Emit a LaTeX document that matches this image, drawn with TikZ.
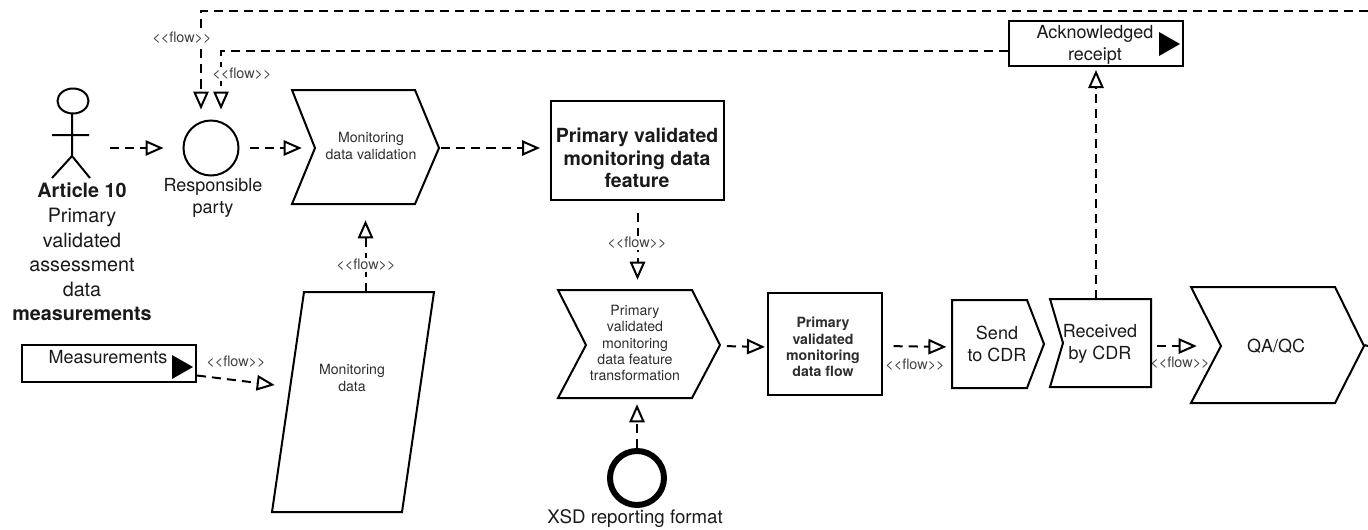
\documentclass[tikz,border=0pt]{standalone}
\usepackage{fontspec}
\setmainfont{TeX Gyre Heros}
\usetikzlibrary{arrows.meta,fit,calc}
\definecolor{ink}{HTML}{1A1A1A}
\definecolor{soft}{HTML}{2E2E2E}
\definecolor{flowgray}{HTML}{404040}
\tikzset{
  x=0.75pt,y=-0.75pt,
  shapeline/.style={draw=black,line width=1.5pt,line join=miter},
  frame/.style={inner sep=0pt},
  boxed/.style={frame,draw=black,line width=1.5pt},
  flowline/.style={draw=black,line width=1.5pt,dash pattern=on 6.8pt off 4.5pt,
    -{Triangle[open,fill=white,length=13.5pt,width=11.5pt,line width=1.5pt]}},
  plainflow/.style={draw=black,line width=1.5pt,dash pattern=on 6.8pt off 4.5pt},
  big/.style={align=center,inner sep=0pt,text=ink,font=\fontsize{14.8}{18.4}\selectfont},
  bigbox/.style={align=center,inner sep=0pt,text=ink,font=\fontsize{14.6}{16.9}\selectfont},
  mid/.style={align=center,inner sep=0pt,text=ink,font=\fontsize{13.5}{17}\selectfont},
  small/.style={align=center,inner sep=0pt,text=soft,font=\fontsize{10.6}{12.2}\selectfont},
  flowlabel/.style={inner sep=1pt,text=flowgray,font=\fontsize{10.8}{12}\selectfont},
  flowlabelbg/.style={flowlabel,fill=white},
}
\begin{document}
\begin{tikzpicture}
\useasboundingbox (0,0) rectangle (1368,529);
\fill[white] (0,0) rectangle (1368,529);

% geometry of the elements
\node[frame,fit={(52,89)(90,178)}] (actor) {};
\node[circle,draw=black,line width=1.5pt,minimum size=41.25pt,inner sep=0pt] (circ) at (211,148) {};
\node[frame,fit={(292,92)(439,204)}] (val) {};
\node[boxed,fit={(551,101)(724,200)}] (prim) {};
\node[frame,fit={(558,290)(720,398)}] (chevb) {};
\node[boxed,fit={(768,293)(882,395)}] (flowbox) {};
\node[circle,draw=black,line width=4.5pt,minimum size=40.5pt,inner sep=0pt] (xsd) at (637,478) {};
\node[frame,fit={(952,300)(1044,388)}] (send) {};
\node[frame,fit={(1050,299)(1151,387)}] (recv) {};
\node[frame,fit={(1191,287)(1364,403)}] (qa) {};
\node[boxed,fit={(1009,21)(1183,66)}] (ack) {};
\node[boxed,fit={(22,345)(196,382)}] (meas) {};
\node[frame,fit={(272,292)(434,512)}] (data) {};
\coordinate (fbright) at (1368,11);
\coordinate (qaout) at (1368,346);

% actor
\draw[shapeline] (73,101) ellipse [x radius=15.5,y radius=12.5];
\draw[shapeline] (72,113) -- (72,156) (52,135) -- (89,135)
  (52,178) -- (72,156) -- (90,178);

% outlined polygons
\draw[shapeline] (292,90) -- (415,90) -- (439,148) -- (415,204) -- (292,204) -- (315,148) -- cycle;
\draw[shapeline] (558,290) -- (692,290) -- (720,345) -- (692,398) -- (558,398) -- (586,345) -- cycle;
\draw[shapeline] (952,300) -- (1027,300) -- (1044,344) -- (1027,388) -- (952,388) -- cycle;
\draw[shapeline] (1050,299) -- (1151,299) -- (1151,387) -- (1050,387) -- (1063,343) -- cycle;
\draw[shapeline] (1191,287) -- (1335,287) -- (1364,346) -- (1335,403) -- (1191,403) -- (1221,346) -- cycle;
\draw[shapeline] (304,292) -- (434,292) -- (402,512) -- (272,512) -- cycle;
\fill[black] (1159,32) -- (1159,56) -- (1180,44) -- cycle;
\fill[black] (172,355) -- (172,379) -- (193,367) -- cycle;

% connectors
\draw[flowline,shorten <=15pt,shorten >=14.25pt] (actor.east |- circ.west) -- (circ.west);
\draw[flowline,shorten <=7.5pt,shorten >=-7.5pt] (circ.east) -- (circ.east -| val.west);
\draw[flowline,shorten <=1.5pt,shorten >=7.5pt] (val.east) -- (val.east -| prim.west);
\draw[flowline,shorten <=9pt,shorten >=7.5pt] (prim.south) -- (prim.south |- chevb.north);
\draw[flowline,shorten <=5pt,shorten >=1.5pt] ($(chevb.east)+(0,2)$) -- ($(chevb.east -| flowbox.west)+(0,3)$);
\draw[flowline,shorten >=4.5pt] (xsd.north) -- (xsd.north |- chevb.south);
\draw[flowline,shorten <=8pt,shorten >=4pt] ($(flowbox.east)+(0,2)$) -- ($(flowbox.east -| send.west)+(0,3)$);
\draw[flowline,shorten <=4.5pt,shorten >=-4.5pt] ($(recv.east)+(0,3)$) -- ($(recv.east -| qa.west)+(0,3)$);
\draw[plainflow] (qa.east) -- (qaout);
\draw[flowline,shorten >=2.25pt] (ack.south |- recv.north) -- (ack.south);
\draw[flowline,shorten >=7.5pt] ($(ack.west)+(0,7)$) -| ($(circ.north)+(10,0)$);
\draw[flowline,shorten >=7.5pt] (fbright) -| ($(circ.north)+(-10,0)$);
\draw[flowline,shorten >=12pt] (val.south |- data.north) -- (val.south);
\draw[flowline,shorten >=0pt] ($(meas.east)+(0,12)$) -- ($(data.west)+(3,-17)$);

% texts of the elements
\node[big] (t1) at (82,252) {\textbf{Article 10}\\Primary\\validated\\assessment\\data\\\textbf{measurements}};
\node[mid] (t2) at (213,198) {Responsible\\party};
\node[small] (t3) at (371,146) {Monitoring\\data validation};
\node[bigbox] (t4) at (637,158) {\textbf{Primary validated}\\\textbf{monitoring data}\\\textbf{feature}};
\node[small] (t5) at (635,343) {Primary\\validated\\monitoring\\data feature\\transformation};
\node[small] (t6) at (823,347) {\textbf{Primary}\\\textbf{validated}\\\textbf{monitoring}\\\textbf{data flow}};
\node[mid] (t7) at (997,344) {Send\\to CDR};
\node[mid] (t8) at (1100,344) {Received\\by CDR};
\node[mid] (t9) at (1276,346) {QA/QC};
\node[mid] (t10) at (1095,45) {Acknowledged\\receipt};
\node[mid] (t11) at (108,357) {Measurements};
\node[small] (t12) at (352,378) {Monitoring\\data};
\node[big,font=\fontsize{14}{17}\selectfont] (t13) at (635,519) {XSD reporting format};

% flow labels
\node[flowlabelbg] (f1) at (182,38) {<{}<flow>{}>};
\node[flowlabelbg] (f2) at (242,74) {<{}<flow>{}>};
\node[flowlabelbg] (f3) at (366,265) {<{}<flow>{}>};
\node[flowlabelbg] (f4) at (637,243) {<{}<flow>{}>};
\node[flowlabel] (f5) at (236,362) {<{}<flow>{}>};
\node[flowlabel] (f6) at (915,365) {<{}<flow>{}>};
\node[flowlabel] (f7) at (1180,363) {<{}<flow>{}>};
\end{tikzpicture}
\end{document}
